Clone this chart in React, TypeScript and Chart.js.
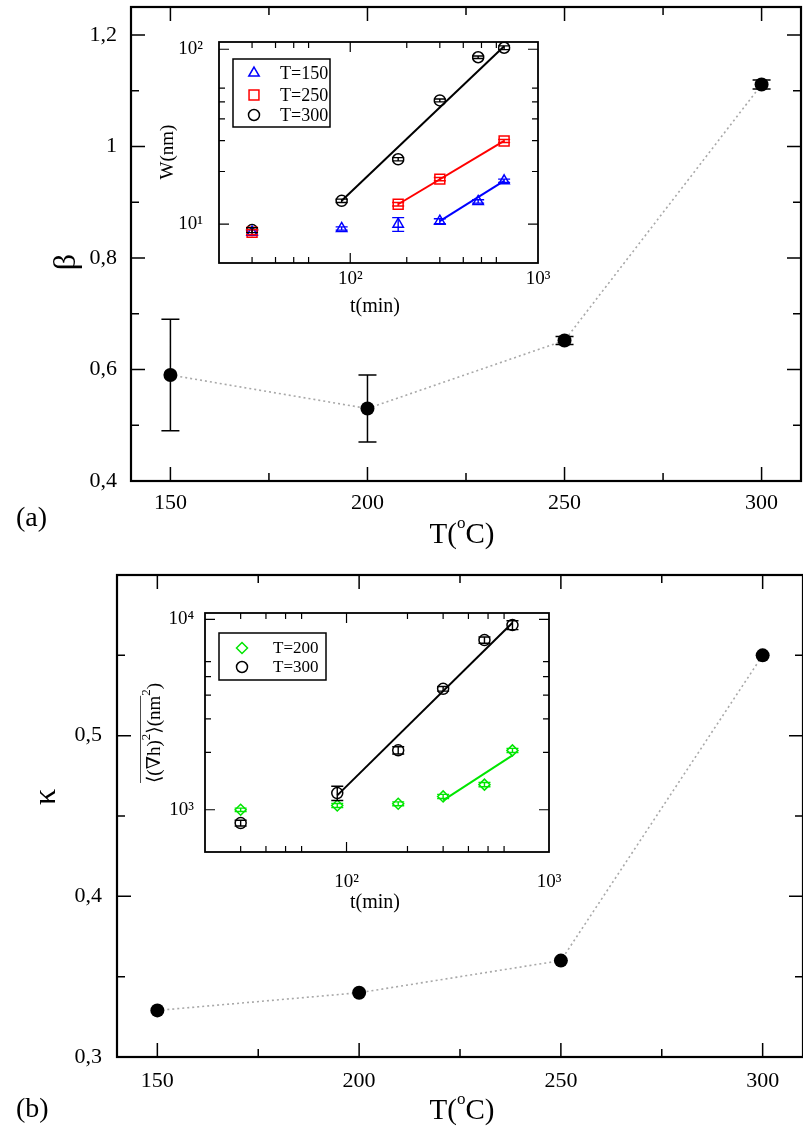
import React, { useEffect, useRef } from "react";
import { Chart, registerables } from "chart.js";

Chart.register(...registerables);

const SERIF = "'Liberation Serif', 'DejaVu Serif', serif";

// ---------- Panel (a): beta vs T ----------
const temperatures = [150, 200, 250, 300];
const betaValues = [0.59, 0.53, 0.652, 1.111];
const betaErrors = [0.1, 0.06, 0.007, 0.008];
const betaMajorTicks = [0.4, 0.6, 0.8, 1.0, 1.2];
const betaMinorTicks = [0.5, 0.7, 0.9, 1.1];

// ---------- Panel (b): kappa vs T ----------
const kappaValues = [0.329, 0.34, 0.36, 0.55];
const kappaMajorTicks = [0.3, 0.4, 0.5];
const kappaMinorTicks = [0.35, 0.45, 0.55];

const tempMajorTicks = [150, 200, 250, 300];
const tempMinorTicks = [175, 225, 275];

// ---------- Inset (a): W(nm) vs t(min) ----------
const timeAll = [30, 90, 180, 300, 480, 660];
const w150 = [9.0, 9.45, 10.0, 10.4, 13.5, 17.7];
const w150Err = [0.3, 0.2, 0.9, 0.35, 0.3, 0.4];
const time250 = [30, 180, 300, 660];
const w250 = [9.0, 13.0, 18.1, 29.9];
const w250Err = [0.3, 0.3, 0.4, 0.6];
const w300 = [9.25, 13.6, 23.5, 51, 90, 102];
const w300Err = [0.3, 0.3, 0.5, 1.0, 1.5, 2.5];
const fitTime150 = [300, 660];
const fitW150 = [10.4, 17.7];
const fitTime250 = [180, 660];
const fitW250 = [13.0, 29.9];
const fitTime300 = [90, 660];
const fitW300 = [13.6, 104];

// ---------- Inset (b): <(grad h)^2>(nm^2) vs t(min) ----------
const g200 = [1000, 1053, 1075, 1175, 1355, 2050];
const g200Err = [20, 25, 25, 30, 35, 50];
const g300 = [851, 1223, 2052, 4318, 7786, 9330];
const g300Err = [30, 105, 90, 120, 300, 500];
const fitTimeG200 = [300, 660];
const fitG200 = [1120, 1930];
const fitTimeG300 = [90, 660];
const fitG300 = [1190, 9600];

const logTimeMajor = [100, 1000];
const logTimeMinor = [30, 40, 50, 60, 200, 300, 400, 500, 600];
const wMajor = [10, 100];
const wMinor = [20, 30, 40, 50, 60];
const gMajor = [1000, 10000];
const gMinor = [2000, 3000, 4000, 5000, 6000];

const SUP: Record<number, string> = { 1: "\u00b9", 2: "\u00b2", 3: "\u00b3", 4: "\u2074" };
const powLabel = (v: number) => "10" + SUP[Math.round(Math.log10(v))];
const commaLabel = (v: number) => (Math.round(v * 100) / 100).toString().replace(".", ",");

const pts = (xs: number[], ys: number[]) => xs.map((x, i) => ({ x, y: ys[i] }));

// ---------- helpers ----------
function drawMarker(ctx: CanvasRenderingContext2D, style: string, x: number, y: number, r: number) {
  ctx.beginPath();
  if (style === "circle") {
    ctx.arc(x, y, r, 0, Math.PI * 2);
  } else if (style === "rect") {
    const s = Math.SQRT1_2 * r;
    ctx.rect(x - s, y - s, 2 * s, 2 * s);
  } else if (style === "triangle") {
    let a = 0;
    for (let k = 0; k < 3; k++) {
      const px = x + Math.sin(a) * r;
      const py = y - Math.cos(a) * r;
      if (k === 0) ctx.moveTo(px, py);
      else ctx.lineTo(px, py);
      a += (2 * Math.PI) / 3;
    }
    ctx.closePath();
  } else if (style === "rectRot") {
    ctx.moveTo(x - r, y);
    ctx.lineTo(x, y - r);
    ctx.lineTo(x + r, y);
    ctx.lineTo(x, y + r);
    ctx.closePath();
  }
  ctx.stroke();
}

const errorBarsPlugin = {
  id: "errorBars",
  afterDatasetsDraw(chart: any) {
    const ctx = chart.ctx;
    const ys = chart.scales.y;
    chart.data.datasets.forEach((ds: any, i: number) => {
      const errs = ds.errorBars;
      if (!errs) return;
      const meta = chart.getDatasetMeta(i);
      ctx.save();
      ctx.strokeStyle = ds.errorColor || "#000";
      ctx.lineWidth = ds.errorWidth || 1.5;
      ctx.beginPath();
      meta.data.forEach((el: any, j: number) => {
        const raw = ds.data[j];
        const e = errs[j];
        const x = el.x;
        const y1 = ys.getPixelForValue(raw.y + e);
        const y2 = ys.getPixelForValue(raw.y - e);
        const c = ds.errorCap || 6;
        ctx.moveTo(x, y1);
        ctx.lineTo(x, y2);
        ctx.moveTo(x - c, y1);
        ctx.lineTo(x + c, y1);
        ctx.moveTo(x - c, y2);
        ctx.lineTo(x + c, y2);
      });
      ctx.stroke();
      ctx.restore();
    });
  },
};

function frameTicks(o: {
  xMajor: number[];
  xMinor: number[];
  yMajor: number[];
  yMinor: number[];
  major: number;
  minor: number;
  tickWidth: number;
  frameWidth: number;
}) {
  return {
    id: "frameTicks",
    afterDatasetsDraw(chart: any) {
      const { ctx, chartArea: a } = chart;
      const xs = chart.scales.x;
      const ys = chart.scales.y;
      ctx.save();
      ctx.strokeStyle = "#000";
      ctx.lineWidth = o.tickWidth;
      ctx.beginPath();
      const vx = (vals: number[], len: number) =>
        vals.forEach((v) => {
          const p = xs.getPixelForValue(v);
          if (p <= a.left + 1 || p >= a.right - 1) return;
          ctx.moveTo(p, a.bottom);
          ctx.lineTo(p, a.bottom - len);
          ctx.moveTo(p, a.top);
          ctx.lineTo(p, a.top + len);
        });
      const vy = (vals: number[], len: number) =>
        vals.forEach((v) => {
          const p = ys.getPixelForValue(v);
          if (p <= a.top + 1 || p >= a.bottom - 1) return;
          ctx.moveTo(a.left, p);
          ctx.lineTo(a.left + len, p);
          ctx.moveTo(a.right, p);
          ctx.lineTo(a.right - len, p);
        });
      vx(o.xMajor, o.major);
      vx(o.xMinor, o.minor);
      vy(o.yMajor, o.major);
      vy(o.yMinor, o.minor);
      ctx.stroke();
      ctx.lineWidth = o.frameWidth;
      ctx.strokeRect(a.left, a.top, a.right - a.left, a.bottom - a.top);
      ctx.restore();
    },
  };
}

type Part = { t: string; size: number; dy?: number };
type TextItem = { parts: Part[]; x: number; y: number; rot?: number; overline?: [number, number, number] };

function textPlugin(items: TextItem[]) {
  return {
    id: "texts",
    afterDraw(chart: any) {
      const ctx = chart.ctx as CanvasRenderingContext2D;
      items.forEach((it) => {
        ctx.save();
        ctx.translate(it.x, it.y);
        if (it.rot) ctx.rotate(it.rot);
        ctx.fillStyle = "#000";
        ctx.strokeStyle = "#000";
        ctx.textBaseline = "middle";
        ctx.textAlign = "left";
        const widths = it.parts.map((p) => {
          ctx.font = `${p.size}px ${SERIF}`;
          return ctx.measureText(p.t).width;
        });
        const total = widths.reduce((s, w) => s + w, 0);
        let cx = -total / 2;
        const starts: number[] = [];
        it.parts.forEach((p, i) => {
          ctx.font = `${p.size}px ${SERIF}`;
          starts.push(cx);
          ctx.fillText(p.t, cx, p.dy || 0);
          cx += widths[i];
        });
        if (it.overline) {
          const [i0, i1, oy] = it.overline;
          ctx.lineWidth = 1.4;
          ctx.beginPath();
          ctx.moveTo(starts[i0], oy);
          ctx.lineTo(starts[i1] + widths[i1], oy);
          ctx.stroke();
        }
        ctx.restore();
      });
    },
  };
}

function legendPlugin(o: {
  box: [number, number, number, number];
  entries: { label: string; style: string; color: string; r: number }[];
  rows: number[];
  symX: number;
  textX: number;
  size: number;
}) {
  return {
    id: "insetLegend",
    afterDraw(chart: any) {
      const ctx = chart.ctx as CanvasRenderingContext2D;
      ctx.save();
      const [x0, y0, x1, y1] = o.box;
      ctx.fillStyle = "#fff";
      ctx.fillRect(x0, y0, x1 - x0, y1 - y0);
      ctx.strokeStyle = "#000";
      ctx.lineWidth = 1.5;
      ctx.strokeRect(x0, y0, x1 - x0, y1 - y0);
      o.entries.forEach((e, i) => {
        ctx.strokeStyle = e.color;
        ctx.lineWidth = 1.5;
        drawMarker(ctx, e.style, o.symX, o.rows[i], e.r);
        ctx.fillStyle = "#000";
        ctx.font = `${o.size}px ${SERIF}`;
        ctx.textBaseline = "middle";
        ctx.textAlign = "left";
        ctx.fillText(e.label, o.textX, o.rows[i] + 1);
      });
      ctx.restore();
    },
  };
}

function fixedAxis(size: number, horizontal: boolean) {
  return (s: any) => {
    if (horizontal) s.height = size;
    else s.width = size;
    s.paddingLeft = 0;
    s.paddingRight = 0;
    s.paddingTop = 0;
    s.paddingBottom = 0;
  };
}

function mainConfig(o: {
  values: number[];
  errors: number[] | null;
  yMin: number;
  yMax: number;
  yMajor: number[];
  yMinor: number[];
  padTop: number;
  yWidth: number;
  xHeight: number;
  xPad: number;
  yPad: number;
  texts: TextItem[];
}) {
  const ds: any = {
    data: pts(temperatures, o.values),
    showLine: true,
    borderColor: "#a8a8a8",
    borderWidth: 1.6,
    borderDash: [2, 3],
    pointRadius: 7,
    pointStyle: "circle",
    pointBackgroundColor: "#000",
    pointBorderColor: "#000",
    pointBorderWidth: 0,
  };
  if (o.errors) {
    ds.errorBars = o.errors;
    ds.errorCap = 9;
    ds.errorWidth = 1.5;
    ds.errorColor = "#000";
  }
  return {
    type: "scatter",
    data: { datasets: [ds] },
    options: {
      responsive: false,
      animation: false,
      events: [],
      layout: { padding: { top: o.padTop, left: 0, right: 0, bottom: 0 } },
      plugins: { legend: { display: false }, tooltip: { enabled: false } },
      scales: {
        x: {
          type: "linear",
          min: 140,
          max: 310,
          grid: { display: false },
          border: { display: false },
          afterBuildTicks: (s: any) => {
            s.ticks = tempMajorTicks.map((v) => ({ value: v }));
          },
          afterFit: fixedAxis(o.xHeight, true),
          ticks: {
            padding: o.xPad,
            color: "#000",
            autoSkip: false,
            maxRotation: 0,
            minRotation: 0,
            font: { family: SERIF, size: 22, lineHeight: 1.2 },
            callback: (v: any) => String(v),
          },
        },
        y: {
          type: "linear",
          min: o.yMin,
          max: o.yMax,
          grid: { display: false },
          border: { display: false },
          afterBuildTicks: (s: any) => {
            s.ticks = o.yMajor.map((v) => ({ value: v }));
          },
          afterFit: fixedAxis(o.yWidth, false),
          ticks: {
            padding: o.yPad,
            color: "#000",
            autoSkip: false,
            font: { family: SERIF, size: 22, lineHeight: 1.2 },
            callback: (v: any) => commaLabel(Number(v)),
          },
        },
      },
    },
    plugins: [
      errorBarsPlugin,
      frameTicks({
        xMajor: tempMajorTicks,
        xMinor: tempMinorTicks,
        yMajor: o.yMajor,
        yMinor: o.yMinor,
        major: 14,
        minor: 8,
        tickWidth: 1.5,
        frameWidth: 2.2,
      }),
      textPlugin(o.texts),
    ],
  };
}

function scatterSet(xs: number[], ys: number[], errs: number[], style: string, color: string, r: number) {
  return {
    data: pts(xs, ys),
    showLine: false,
    pointStyle: style,
    pointRadius: r,
    pointBorderColor: color,
    pointBackgroundColor: "rgba(0,0,0,0)",
    pointBorderWidth: 1.5,
    errorBars: errs,
    errorCap: 6,
    errorWidth: 1.4,
    errorColor: color,
  };
}

function fitSet(xs: number[], ys: number[], color: string) {
  return {
    data: pts(xs, ys),
    showLine: true,
    borderColor: color,
    borderWidth: 2,
    pointRadius: 0,
  };
}

function insetConfig(o: {
  datasets: any[];
  yMin: number;
  yMax: number;
  yMajor: number[];
  yMinor: number[];
  padTop: number;
  padRight: number;
  yWidth: number;
  xHeight: number;
  xPad: number;
  yPad: number;
  texts: TextItem[];
  legend: any;
}) {
  return {
    type: "scatter",
    data: { datasets: o.datasets },
    options: {
      responsive: false,
      animation: false,
      events: [],
      layout: { padding: { top: o.padTop, left: 0, right: o.padRight, bottom: 0 } },
      plugins: { legend: { display: false }, tooltip: { enabled: false } },
      scales: {
        x: {
          type: "logarithmic",
          min: 20,
          max: 1000,
          grid: { display: false },
          border: { display: false },
          afterBuildTicks: (s: any) => {
            s.ticks = logTimeMajor.map((v) => ({ value: v }));
          },
          afterFit: fixedAxis(o.xHeight, true),
          ticks: {
            padding: o.xPad,
            color: "#000",
            autoSkip: false,
            maxRotation: 0,
            minRotation: 0,
            font: { family: SERIF, size: 19, lineHeight: 1.2 },
            callback: (v: any) => powLabel(Number(v)),
          },
        },
        y: {
          type: "logarithmic",
          min: o.yMin,
          max: o.yMax,
          grid: { display: false },
          border: { display: false },
          afterBuildTicks: (s: any) => {
            s.ticks = o.yMajor.map((v) => ({ value: v }));
          },
          afterFit: fixedAxis(o.yWidth, false),
          ticks: {
            padding: o.yPad,
            color: "#000",
            autoSkip: false,
            font: { family: SERIF, size: 19, lineHeight: 1.2 },
            callback: (v: any) => powLabel(Number(v)),
          },
        },
      },
    },
    plugins: [
      errorBarsPlugin,
      frameTicks({
        xMajor: logTimeMajor,
        xMinor: logTimeMinor,
        yMajor: o.yMajor,
        yMinor: o.yMinor,
        major: 10,
        minor: 6,
        tickWidth: 1.2,
        frameWidth: 1.8,
      }),
      textPlugin(o.texts),
      legendPlugin(o.legend),
    ],
  };
}

const tTitle = (x: number, y: number): TextItem => ({
  x,
  y,
  parts: [
    { t: "T(", size: 29 },
    { t: "o", size: 17, dy: -11 },
    { t: "C)", size: 29 },
  ],
});

export default function App() {
  const aRef = useRef<HTMLCanvasElement>(null);
  const bRef = useRef<HTMLCanvasElement>(null);
  const iaRef = useRef<HTMLCanvasElement>(null);
  const ibRef = useRef<HTMLCanvasElement>(null);

  useEffect(() => {
    const charts: Chart[] = [];

    charts.push(
      new Chart(
        aRef.current as HTMLCanvasElement,
        mainConfig({
          values: betaValues,
          errors: betaErrors,
          yMin: 0.4,
          yMax: 1.25,
          yMajor: betaMajorTicks,
          yMinor: betaMinorTicks,
          padTop: 4,
          yWidth: 131,
          xHeight: 79,
          xPad: 1,
          yPad: 6,
          texts: [{ x: 67, y: 262, rot: -Math.PI / 2, parts: [{ t: "\u03b2", size: 32 }] }, tTitle(462, 535)],
        }) as any
      )
    );

    charts.push(
      new Chart(
        bRef.current as HTMLCanvasElement,
        mainConfig({
          values: kappaValues,
          errors: null,
          yMin: 0.3,
          yMax: 0.6,
          yMajor: kappaMajorTicks,
          yMinor: kappaMinorTicks,
          padTop: 10,
          yWidth: 117,
          xHeight: 82,
          xPad: 3,
          yPad: 7,
          texts: [{ x: 47, y: 232, rot: -Math.PI / 2, parts: [{ t: "\u03ba", size: 32 }] }, tTitle(462, 546)],
        }) as any
      )
    );

    charts.push(
      new Chart(
        iaRef.current as HTMLCanvasElement,
        insetConfig({
          datasets: [
            scatterSet(timeAll, w150, w150Err, "triangle", "#0000ff", 6),
            scatterSet(time250, w250, w250Err, "rect", "#ff0000", 7),
            scatterSet(timeAll, w300, w300Err, "circle", "#000000", 5.5),
            fitSet(fitTime150, fitW150, "#0000ff"),
            fitSet(fitTime250, fitW250, "#ff0000"),
            fitSet(fitTime300, fitW300, "#000000"),
          ],
          yMin: 6,
          yMax: 110,
          yMajor: wMajor,
          yMinor: wMinor,
          padTop: 12,
          padRight: 32,
          yWidth: 69,
          xHeight: 67,
          xPad: -3,
          yPad: 8,
          texts: [
            { x: 18, y: 122, rot: -Math.PI / 2, parts: [{ t: "W(nm)", size: 19 }] },
            { x: 225, y: 277, parts: [{ t: "t(min)", size: 20 }] },
          ],
          legend: {
            box: [83, 29, 180, 97],
            entries: [
              { label: "T=150", style: "triangle", color: "#0000ff", r: 6 },
              { label: "T=250", style: "rect", color: "#ff0000", r: 7 },
              { label: "T=300", style: "circle", color: "#000000", r: 5.5 },
            ],
            rows: [43, 65, 85],
            symX: 104,
            textX: 130,
            size: 18,
          },
        }) as any
      )
    );

    charts.push(
      new Chart(
        ibRef.current as HTMLCanvasElement,
        insetConfig({
          datasets: [
            scatterSet(timeAll, g200, g200Err, "rectRot", "#00e600", 5.5),
            scatterSet(timeAll, g300, g300Err, "circle", "#000000", 5.5),
            fitSet(fitTimeG200, fitG200, "#00e600"),
            fitSet(fitTimeG300, fitG300, "#000000"),
          ],
          yMin: 600,
          yMax: 10800,
          yMajor: gMajor,
          yMinor: gMinor,
          padTop: 18,
          padRight: 21,
          yWidth: 65,
          xHeight: 73,
          xPad: 11,
          yPad: 3,
          texts: [
            {
              x: 15,
              y: 138,
              rot: -Math.PI / 2,
              parts: [
                { t: "\u27e8(\u2207h)", size: 19 },
                { t: "2", size: 13, dy: -8 },
                { t: "\u27e9(nm", size: 19 },
                { t: "2", size: 13, dy: -8 },
                { t: ")", size: 19 },
              ],
              overline: [0, 2, -15],
            },
            { x: 235, y: 308, parts: [{ t: "t(min)", size: 20 }] },
          ],
          legend: {
            box: [79, 38, 186, 85],
            entries: [
              { label: "T=200", style: "rectRot", color: "#00e600", r: 5.5 },
              { label: "T=300", style: "circle", color: "#000000", r: 5.5 },
            ],
            rows: [53, 72],
            symX: 102,
            textX: 133,
            size: 17,
          },
        }) as any
      )
    );

    return () => charts.forEach((c) => c.destroy());
  }, []);

  const labelStyle: React.CSSProperties = {
    position: "absolute",
    fontFamily: SERIF,
    fontSize: 28,
    lineHeight: "34px",
    color: "#000",
    whiteSpace: "nowrap",
  };

  return (
    <div
      style={{
        position: "absolute",
        left: 0,
        top: 0,
        width: 803,
        height: 1139,
        overflow: "hidden",
        background: "#fff",
      }}
    >
      <canvas ref={aRef} width={808} height={560} style={{ position: "absolute", left: 0, top: 0, width: 808, height: 560 }} />
      <canvas ref={iaRef} width={420} height={300} style={{ position: "absolute", left: 150, top: 30, width: 420, height: 300 }} />
      <canvas ref={bRef} width={810} height={574} style={{ position: "absolute", left: 0, top: 565, width: 810, height: 574 }} />
      <canvas ref={ibRef} width={430} height={330} style={{ position: "absolute", left: 140, top: 595, width: 430, height: 330 }} />
      <div style={{ ...labelStyle, left: 16, top: 500 }}>(a)</div>
      <div style={{ ...labelStyle, left: 16, top: 1091 }}>(b)</div>
    </div>
  );
}
